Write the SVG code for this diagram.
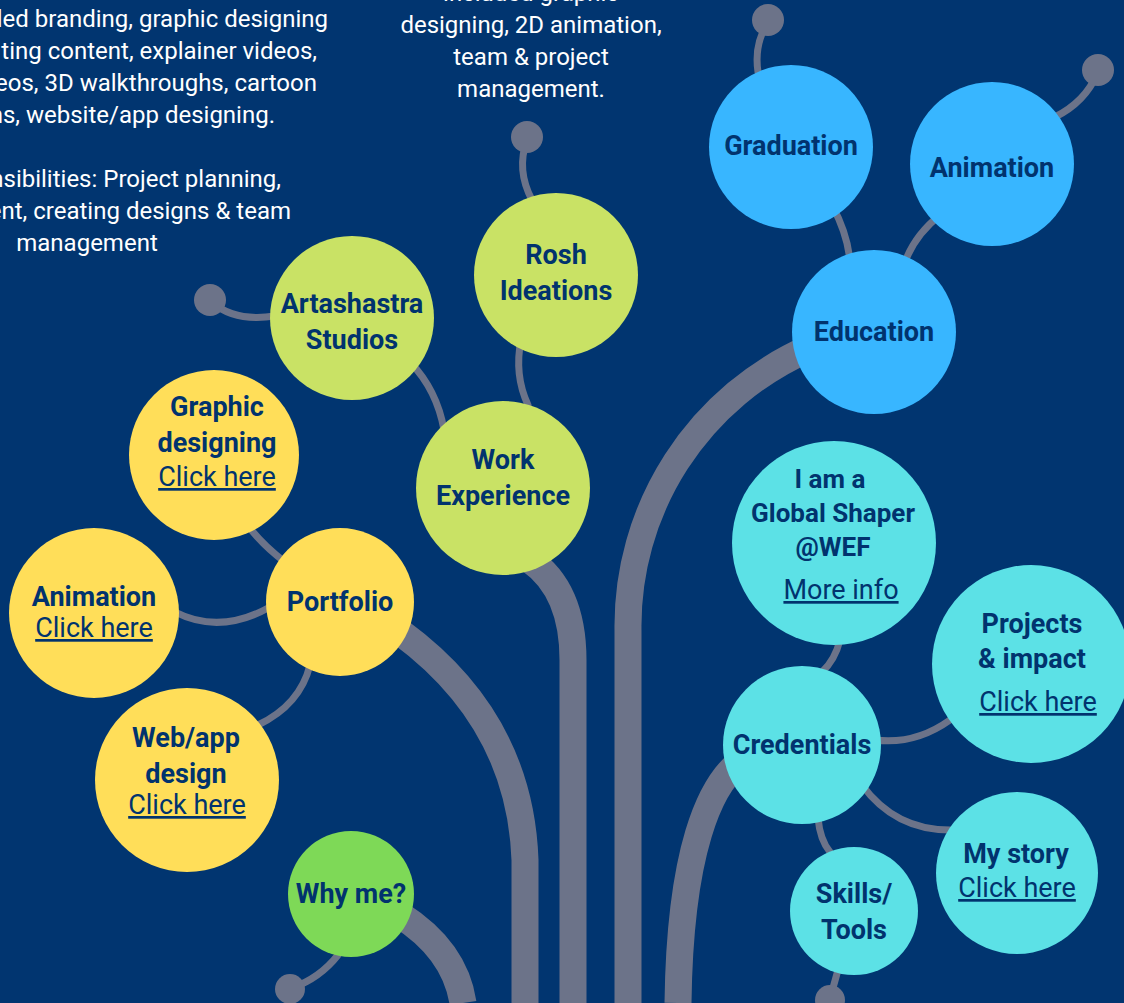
<svg xmlns="http://www.w3.org/2000/svg" width="1124" height="1003" viewBox="0 0 1124 1003">
<style>
.thin{fill:none;stroke:#6C7389;stroke-width:7;stroke-linecap:round}
.thick{fill:none;stroke:#6C7389;stroke-width:27}
.pin{fill:#6C7389}
.t{font-family:Roboto,"Liberation Sans",sans-serif;font-weight:700;font-size:27px;fill:#01336E;text-anchor:middle}
.lk{font-weight:400;text-decoration:underline}
.p{font-family:Roboto,"Liberation Sans",sans-serif;font-size:24px;fill:#FFFFFF}
.lime{fill:#C9E265}.yel{fill:#FFDE59}.grn{fill:#7ED957}.blu{fill:#38B6FF}.cya{fill:#5CE1E6}
</style>
<rect width="1124" height="1003" fill="#013570"/>
<g id="texts">
<text class="p" text-anchor="end" x="328" y="27">led branding, graphic designing</text>
<text class="p" text-anchor="end" x="317" y="59">ting content, explainer videos,</text>
<text class="p" text-anchor="end" x="317" y="91">eos, 3D walkthroughs, cartoon</text>
<text class="p" text-anchor="end" x="275" y="123">ns, website/app designing.</text>
<text class="p" text-anchor="end" x="281" y="187">nsibilities: Project planning,</text>
<text class="p" text-anchor="end" x="291" y="219">ent, creating designs &amp; team</text>
<text class="p" text-anchor="middle" x="87" y="251">management</text>
<text class="p" text-anchor="middle" x="531" y="1">included graphic</text>
<text class="p" text-anchor="middle" x="531" y="33">designing, 2D animation,</text>
<text class="p" text-anchor="middle" x="531" y="65">team &amp; project</text>
<text class="p" text-anchor="middle" x="531" y="97">management.</text>
</g>
<g id="connectors">
<path class="thick" d="M530 560 Q573 590 573 660 L573 1003"/>
<path class="thick" d="M810 348 A303 303 0 0 0 628 630 L628 1003"/>
<path class="thick" d="M740 762 C710 785 680 850 678 1003"/>
<path class="thick" d="M400 632 Q520 720 525 860 L525 1003"/>
<path class="thick" d="M400 915 Q455 950 463 1003"/>
<path class="thin" d="M767 24 Q754 45 758 72"/>
<path class="thin" d="M1097 74 Q1085 102 1055 117"/>
<path class="thin" d="M832 205 Q848 235 850 262"/>
<path class="thin" d="M940 215 Q915 235 905 262"/>
<path class="thin" d="M527 140 Q516 170 532 200"/>
<path class="thin" d="M521 340 Q514 375 528 405"/>
<path class="thin" d="M410 362 Q437 390 444 430"/>
<path class="thin" d="M213 303 Q235 322 275 316"/>
<path class="thin" d="M245 522 Q262 545 285 562"/>
<path class="thin" d="M175 612 Q220 635 270 607"/>
<path class="thin" d="M310 665 Q300 705 258 725"/>
<path class="thin" d="M292 988 Q320 978 338 955"/>
<path class="thin" d="M840 640 Q835 660 822 672"/>
<path class="thin" d="M875 740 Q915 745 950 720"/>
<path class="thin" d="M862 785 Q895 830 950 830"/>
<path class="thin" d="M818 818 Q820 840 830 852"/>
<path class="thin" d="M838 970 L831 995"/>
<circle class="pin" cx="768" cy="20" r="16"/>
<circle class="pin" cx="1098" cy="70" r="16"/>
<circle class="pin" cx="527" cy="137" r="16"/>
<circle class="pin" cx="210" cy="300" r="16"/>
<circle class="pin" cx="290" cy="989" r="15"/>
<circle class="pin" cx="830" cy="1000" r="15"/>
</g>
<g id="graduation"><circle class="blu" cx="791" cy="147" r="82"/><text class="t" x="791" y="155">Graduation</text></g>
<g id="animation-edu"><circle class="blu" cx="992" cy="164" r="82"/><text class="t" x="992" y="177">Animation</text></g>
<g id="education"><circle class="blu" cx="874" cy="332" r="82"/><text class="t" x="874" y="341">Education</text></g>
<g id="rosh"><circle class="lime" cx="556" cy="275" r="82"/><text class="t" x="556" y="264">Rosh</text><text class="t" x="556" y="300">Ideations</text></g>
<g id="artashastra"><circle class="lime" cx="352" cy="318" r="82"/><text class="t" x="352" y="313">Artashastra</text><text class="t" x="352" y="349">Studios</text></g>
<g id="work"><circle class="lime" cx="503" cy="488" r="87"/><text class="t" x="503" y="469">Work</text><text class="t" x="503" y="505">Experience</text></g>
<g id="graphic"><circle class="yel" cx="214" cy="455" r="85"/><text class="t" x="217" y="416">Graphic</text><text class="t" x="217" y="452">designing</text><text class="t lk" x="217" y="486">Click here</text></g>
<g id="portfolio"><circle class="yel" cx="340" cy="602" r="74"/><text class="t" x="340" y="611">Portfolio</text></g>
<g id="animation-port"><circle class="yel" cx="94" cy="613" r="85"/><text class="t" x="94" y="606">Animation</text><text class="t lk" x="94" y="637">Click here</text></g>
<g id="webapp"><circle class="yel" cx="187" cy="780" r="92"/><text class="t" x="186" y="747">Web/app</text><text class="t" x="186" y="783">design</text><text class="t lk" x="187" y="814">Click here</text></g>
<g id="whyme"><circle class="grn" cx="351" cy="894" r="63"/><text class="t" x="351" y="903">Why me?</text></g>
<g id="shaper"><circle class="cya" cx="834" cy="543" r="102"/><text class="t" style="font-size:26px" x="830" y="488">I am a</text><text class="t" style="font-size:26px" x="833" y="522">Global Shaper</text><text class="t" style="font-size:26px" x="833" y="556">@WEF</text><text class="t lk" x="841" y="599">More info</text></g>
<g id="credentials"><circle class="cya" cx="802" cy="745" r="79"/><text class="t" x="802" y="754">Credentials</text></g>
<g id="projects"><circle class="cya" cx="1031" cy="664" r="99"/><text class="t" x="1032" y="633">Projects</text><text class="t" x="1032" y="668">&amp; impact</text><text class="t lk" x="1038" y="711">Click here</text></g>
<g id="mystory"><circle class="cya" cx="1017" cy="873" r="81"/><text class="t" x="1016" y="863">My story</text><text class="t lk" x="1017" y="897">Click here</text></g>
<g id="skills"><circle class="cya" cx="854" cy="911" r="64"/><text class="t" x="854" y="903">Skills/</text><text class="t" x="854" y="939">Tools</text></g>
</svg>
